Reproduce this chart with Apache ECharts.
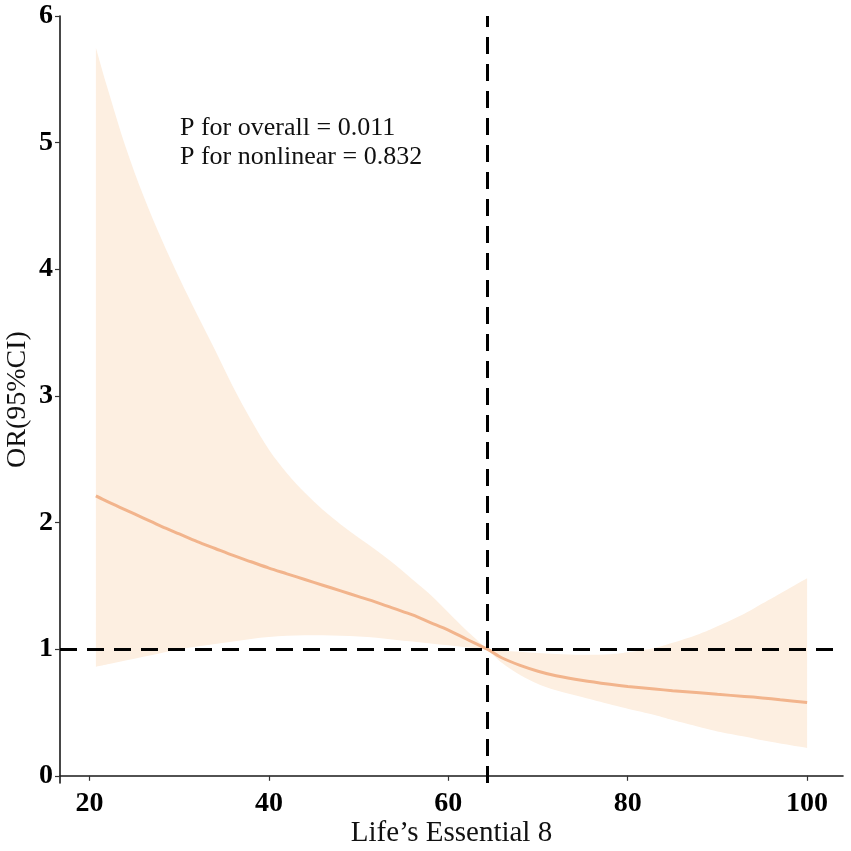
<!DOCTYPE html>
<html>
<head>
<meta charset="utf-8">
<script src="https://cdn.jsdelivr.net/npm/echarts@6/dist/echarts.min.js"></script>
<style>
html,body{margin:0;padding:0;background:#fff;}
#chart{width:851px;height:851px;}
</style>
</head>
<body>
<div id="chart"></div>
<script>
// x values (Life's Essential 8)
var xValues = [20.7, 22, 24, 26, 28, 30, 32, 34, 36, 38, 40, 42, 44, 46, 48, 50, 52, 54, 56, 58, 60, 62, 64.34, 66, 68, 70, 72, 75, 78, 80, 83, 85, 88, 90, 93, 95, 97, 100];
// OR estimate
var orValues = [2.21, 2.165, 2.10, 2.035, 1.97, 1.91, 1.85, 1.795, 1.74, 1.69, 1.64, 1.595, 1.55, 1.505, 1.46, 1.415, 1.37, 1.32, 1.27, 1.21, 1.15, 1.08, 1.00, 0.93, 0.872, 0.826, 0.79, 0.752, 0.722, 0.705, 0.685, 0.672, 0.655, 0.643, 0.627, 0.615, 0.600, 0.578];
// upper 95% CI
var upperValues = [5.75, 5.43, 4.97, 4.58, 4.24, 3.93, 3.64, 3.36, 3.07, 2.81, 2.575, 2.39, 2.235, 2.10, 1.985, 1.88, 1.78, 1.67, 1.55, 1.43, 1.29, 1.15, 1.00, 0.99, 0.98, 0.97, 0.962, 0.955, 0.96, 0.975, 1.01, 1.05, 1.12, 1.18, 1.28, 1.36, 1.44, 1.56];
// lower 95% CI
var lowerValues = [0.86, 0.88, 0.91, 0.94, 0.97, 1.00, 1.02, 1.04, 1.06, 1.08, 1.095, 1.105, 1.11, 1.11, 1.105, 1.10, 1.09, 1.075, 1.06, 1.045, 1.03, 1.015, 1.00, 0.89, 0.795, 0.725, 0.675, 0.62, 0.565, 0.53, 0.48, 0.44, 0.385, 0.35, 0.31, 0.28, 0.255, 0.22];
var xTicks = [20, 40, 60, 80, 100];
var yTicks = [0, 1, 2, 3, 4, 5, 6];
var refX = 64.34;
var refY = 1;
var annotLines = ['P for overall = 0.011', 'P for nonlinear = 0.832'];

var FONT = '"Liberation Serif","Times New Roman",serif';

var bandData = xValues.map(function (x, i) { return [x, lowerValues[i], upperValues[i]]; });
var lineData = xValues.map(function (x, i) { return [x, orValues[i]]; });

// Catmull-Rom -> Bezier path segments through pixel points; corners kept where isBreak(i)
function curveThrough(pts, isBreak) {
  var d = '';
  var n = pts.length;
  for (var i = 0; i < n - 1; i++) {
    var a = pts[i], b = pts[i + 1];
    var p0 = (i - 1 >= 0 && !isBreak(i)) ? pts[i - 1] : a;
    var p3 = (i + 2 < n && !isBreak(i + 1)) ? pts[i + 2] : b;
    var c1x = a[0] + (b[0] - p0[0]) / 6, c1y = a[1] + (b[1] - p0[1]) / 6;
    var c2x = b[0] - (p3[0] - a[0]) / 6, c2y = b[1] - (p3[1] - a[1]) / 6;
    d += ' C' + c1x.toFixed(2) + ',' + c1y.toFixed(2) + ' ' + c2x.toFixed(2) + ',' + c2y.toFixed(2) + ' ' + b[0].toFixed(2) + ',' + b[1].toFixed(2);
  }
  return d;
}

function renderBand(params, api) {
  if (params.dataIndex !== 0) { return null; }
  var n = bandData.length;
  var upperPts = [];
  var lowerPts = [];
  var pinch = {};
  for (var i = 0; i < n; i++) {
    upperPts.push(api.coord([bandData[i][0], bandData[i][2]]));
    lowerPts.push(api.coord([bandData[i][0], bandData[i][1]]));
    if (bandData[i][1] === bandData[i][2]) { pinch[i] = true; }
  }
  var lowerRev = lowerPts.slice().reverse();
  var d = 'M' + upperPts[0][0].toFixed(2) + ',' + upperPts[0][1].toFixed(2);
  d += curveThrough(upperPts, function (k) { return !!pinch[k]; });
  d += ' L' + lowerRev[0][0].toFixed(2) + ',' + lowerRev[0][1].toFixed(2);
  d += curveThrough(lowerRev, function (k) { return !!pinch[n - 1 - k]; });
  d += ' Z';
  return {
    type: 'path',
    silent: true,
    shape: { pathData: d },
    style: { fill: '#FDEFE1', stroke: null }
  };
}

var chart = echarts.init(document.getElementById('chart'));
chart.setOption({
  backgroundColor: '#ffffff',
  animation: false,
  grid: { left: 60, right: 8, top: 16, bottom: 68, containLabel: false, outerBoundsMode: 'none' },
  xAxis: {
    type: 'value',
    min: 16.7,
    max: 104.0,
    name: 'Life\u2019s Essential 8',
    nameLocation: 'middle',
    nameGap: 36,
    nameMoveOverlap: false,
    nameTextStyle: { fontFamily: FONT, fontSize: 29, color: '#111' },
    axisLine: { show: true, lineStyle: { color: '#1a1a1a', width: 1.6 } },
    axisTick: { show: true, length: 5, lineStyle: { color: '#333', width: 1.2 }, customValues: xTicks },
    axisLabel: { fontFamily: FONT, fontSize: 28, fontWeight: 'bold', color: '#000', margin: 7, customValues: xTicks },
    splitLine: { show: false }
  },
  yAxis: {
    type: 'value',
    min: -0.057,
    max: 6.0,
    name: 'OR(95%CI)',
    nameLocation: 'middle',
    nameRotate: 90,
    nameGap: 28,
    nameMoveOverlap: false,
    nameTextStyle: { fontFamily: FONT, fontSize: 28, color: '#111' },
    axisLine: { show: true, lineStyle: { color: '#1a1a1a', width: 1.6 } },
    axisTick: { show: true, length: 5, lineStyle: { color: '#333', width: 1.2 }, customValues: yTicks },
    axisLabel: { fontFamily: FONT, fontSize: 28, fontWeight: 'bold', color: '#000', margin: 7, customValues: yTicks },
    splitLine: { show: false }
  },
  series: [
    {
      name: 'band',
      type: 'custom',
      renderItem: renderBand,
      data: bandData,
      encode: { x: 0, y: [1, 2] },
      silent: true,
      z: 1
    },
    {
      name: 'OR',
      type: 'line',
      data: lineData,
      symbol: 'none',
      smooth: 0.3,
      lineStyle: { color: '#F2B48C', width: 3 },
      z: 3,
      markLine: {
        silent: true,
        symbol: ['none', 'none'],
        label: { show: false },
        lineStyle: { color: '#000', width: 3, type: [17, 10] },
        data: [{ xAxis: refX }, { yAxis: refY }],
        z: 4
      }
    }
  ],
  graphic: [
    {
      type: 'text',
      left: 180,
      top: 115,
      z: 100,
      style: { text: annotLines[0], font: '26px ' + FONT, fill: '#111' }
    },
    {
      type: 'text',
      left: 180,
      top: 144,
      z: 100,
      style: { text: annotLines[1], font: '26px ' + FONT, fill: '#111' }
    }
  ]
});
</script>
</body>
</html>
